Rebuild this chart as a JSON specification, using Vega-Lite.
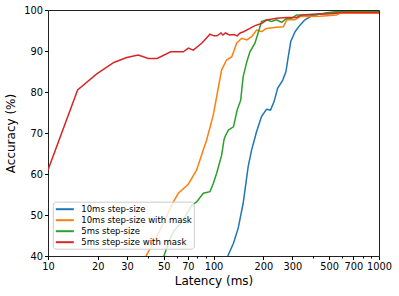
{
  "$schema": "https://vega.github.io/schema/vega-lite/v6.json",
  "autosize": "none",
  "width": 331,
  "height": 246,
  "padding": {"left": 48, "top": 10, "right": 20, "bottom": 40},
  "config": {
    "font": "DejaVu Sans",
    "view": {"stroke": "#222", "strokeWidth": 1},
    "axis": {"grid": false, "domain": false, "tickColor": "#000", "labelColor": "#000", "titleColor": "#000", "labelFontSize": 9.8, "tickSize": 3.5, "labelPadding": 2, "titleFontWeight": "normal", "titleFontSize": 12, "labelOverlap": false, "labelFlush": false}
  },
  "data": {"values": [
    {"s": "10ms step-size", "x": 114, "y": 37},
    {"s": "10ms step-size", "x": 122, "y": 40},
    {"s": "10ms step-size", "x": 132, "y": 43.1},
    {"s": "10ms step-size", "x": 141, "y": 46.8},
    {"s": "10ms step-size", "x": 151, "y": 52.8},
    {"s": "10ms step-size", "x": 162, "y": 61.8},
    {"s": "10ms step-size", "x": 170, "y": 65.9},
    {"s": "10ms step-size", "x": 182, "y": 70.3},
    {"s": "10ms step-size", "x": 195, "y": 74},
    {"s": "10ms step-size", "x": 209, "y": 75.8},
    {"s": "10ms step-size", "x": 221, "y": 75.6},
    {"s": "10ms step-size", "x": 232, "y": 77.6},
    {"s": "10ms step-size", "x": 244, "y": 80.9},
    {"s": "10ms step-size", "x": 262, "y": 82.9},
    {"s": "10ms step-size", "x": 274, "y": 85},
    {"s": "10ms step-size", "x": 283, "y": 88.6},
    {"s": "10ms step-size", "x": 293, "y": 92.3},
    {"s": "10ms step-size", "x": 311, "y": 94.7},
    {"s": "10ms step-size", "x": 333, "y": 96.3},
    {"s": "10ms step-size", "x": 357, "y": 97.6},
    {"s": "10ms step-size", "x": 401, "y": 98.8},
    {"s": "10ms step-size", "x": 483, "y": 99.2},
    {"s": "10ms step-size", "x": 581, "y": 99.6},
    {"s": "10ms step-size", "x": 1000, "y": 99.6},
    {"s": "10ms step-size with mask", "x": 37, "y": 37},
    {"s": "10ms step-size with mask", "x": 39.1, "y": 40},
    {"s": "10ms step-size with mask", "x": 47.5, "y": 46.3},
    {"s": "10ms step-size with mask", "x": 57.2, "y": 53.2},
    {"s": "10ms step-size with mask", "x": 61.3, "y": 55.3},
    {"s": "10ms step-size with mask", "x": 70.4, "y": 57.5},
    {"s": "10ms step-size with mask", "x": 79.1, "y": 61},
    {"s": "10ms step-size with mask", "x": 86.8, "y": 65.9},
    {"s": "10ms step-size with mask", "x": 90.9, "y": 68.3},
    {"s": "10ms step-size with mask", "x": 99.7, "y": 74.4},
    {"s": "10ms step-size with mask", "x": 112, "y": 85.4},
    {"s": "10ms step-size with mask", "x": 120, "y": 87.8},
    {"s": "10ms step-size with mask", "x": 129, "y": 88.6},
    {"s": "10ms step-size with mask", "x": 138, "y": 91.9},
    {"s": "10ms step-size with mask", "x": 148, "y": 93.1},
    {"s": "10ms step-size with mask", "x": 159, "y": 92.7},
    {"s": "10ms step-size with mask", "x": 170, "y": 93.5},
    {"s": "10ms step-size with mask", "x": 182, "y": 95.1},
    {"s": "10ms step-size with mask", "x": 195, "y": 94.7},
    {"s": "10ms step-size with mask", "x": 209, "y": 95.5},
    {"s": "10ms step-size with mask", "x": 240, "y": 95.8},
    {"s": "10ms step-size with mask", "x": 264, "y": 95.9},
    {"s": "10ms step-size with mask", "x": 277, "y": 97.6},
    {"s": "10ms step-size with mask", "x": 310, "y": 97.6},
    {"s": "10ms step-size with mask", "x": 333, "y": 98.4},
    {"s": "10ms step-size with mask", "x": 366, "y": 98.4},
    {"s": "10ms step-size with mask", "x": 439, "y": 98.5},
    {"s": "10ms step-size with mask", "x": 555, "y": 98.8},
    {"s": "10ms step-size with mask", "x": 581, "y": 99.2},
    {"s": "10ms step-size with mask", "x": 1000, "y": 99.2},
    {"s": "5ms step-size", "x": 48, "y": 37},
    {"s": "5ms step-size", "x": 50.2, "y": 40},
    {"s": "5ms step-size", "x": 53.3, "y": 43.1},
    {"s": "5ms step-size", "x": 57.2, "y": 45.9},
    {"s": "5ms step-size", "x": 65.7, "y": 48.8},
    {"s": "5ms step-size", "x": 73.8, "y": 52.4},
    {"s": "5ms step-size", "x": 79.1, "y": 53.2},
    {"s": "5ms step-size", "x": 86.8, "y": 55.3},
    {"s": "5ms step-size", "x": 95.2, "y": 55.7},
    {"s": "5ms step-size", "x": 99.7, "y": 57.7},
    {"s": "5ms step-size", "x": 104.5, "y": 60.2},
    {"s": "5ms step-size", "x": 112, "y": 64.6},
    {"s": "5ms step-size", "x": 115.7, "y": 68.3},
    {"s": "5ms step-size", "x": 117.3, "y": 69.1},
    {"s": "5ms step-size", "x": 123, "y": 70.7},
    {"s": "5ms step-size", "x": 132, "y": 71.5},
    {"s": "5ms step-size", "x": 139, "y": 75.6},
    {"s": "5ms step-size", "x": 146, "y": 78},
    {"s": "5ms step-size", "x": 151, "y": 83.7},
    {"s": "5ms step-size", "x": 159, "y": 87.4},
    {"s": "5ms step-size", "x": 166, "y": 89.8},
    {"s": "5ms step-size", "x": 178, "y": 91.9},
    {"s": "5ms step-size", "x": 187, "y": 94.7},
    {"s": "5ms step-size", "x": 195, "y": 97.2},
    {"s": "5ms step-size", "x": 209, "y": 97.6},
    {"s": "5ms step-size", "x": 224, "y": 97.2},
    {"s": "5ms step-size", "x": 240, "y": 97.6},
    {"s": "5ms step-size", "x": 258, "y": 97},
    {"s": "5ms step-size", "x": 277, "y": 98},
    {"s": "5ms step-size", "x": 297, "y": 98},
    {"s": "5ms step-size", "x": 318, "y": 98.8},
    {"s": "5ms step-size", "x": 366, "y": 98.8},
    {"s": "5ms step-size", "x": 412, "y": 98.8},
    {"s": "5ms step-size", "x": 494, "y": 99.4},
    {"s": "5ms step-size", "x": 555, "y": 99.6},
    {"s": "5ms step-size", "x": 1000, "y": 99.6},
    {"s": "5ms step-size with mask", "x": 10, "y": 61},
    {"s": "5ms step-size with mask", "x": 15.1, "y": 80.5},
    {"s": "5ms step-size with mask", "x": 19.7, "y": 84.4},
    {"s": "5ms step-size with mask", "x": 25, "y": 87.2},
    {"s": "5ms step-size with mask", "x": 29.9, "y": 88.4},
    {"s": "5ms step-size with mask", "x": 35.1, "y": 89},
    {"s": "5ms step-size with mask", "x": 40.4, "y": 88.2},
    {"s": "5ms step-size with mask", "x": 45.7, "y": 88.2},
    {"s": "5ms step-size with mask", "x": 55.1, "y": 89.8},
    {"s": "5ms step-size with mask", "x": 65.7, "y": 89.8},
    {"s": "5ms step-size with mask", "x": 70.5, "y": 90.7},
    {"s": "5ms step-size with mask", "x": 75.5, "y": 90.2},
    {"s": "5ms step-size with mask", "x": 85.5, "y": 92},
    {"s": "5ms step-size with mask", "x": 95.2, "y": 94.1},
    {"s": "5ms step-size with mask", "x": 100.7, "y": 93.7},
    {"s": "5ms step-size with mask", "x": 105, "y": 93.7},
    {"s": "5ms step-size with mask", "x": 111, "y": 94.4},
    {"s": "5ms step-size with mask", "x": 114, "y": 93.9},
    {"s": "5ms step-size with mask", "x": 118, "y": 94.4},
    {"s": "5ms step-size with mask", "x": 125, "y": 93.9},
    {"s": "5ms step-size with mask", "x": 133, "y": 94},
    {"s": "5ms step-size with mask", "x": 139, "y": 93.7},
    {"s": "5ms step-size with mask", "x": 145, "y": 94.4},
    {"s": "5ms step-size with mask", "x": 152, "y": 94.7},
    {"s": "5ms step-size with mask", "x": 166, "y": 95.5},
    {"s": "5ms step-size with mask", "x": 178, "y": 96.2},
    {"s": "5ms step-size with mask", "x": 195, "y": 96.7},
    {"s": "5ms step-size with mask", "x": 210, "y": 97.6},
    {"s": "5ms step-size with mask", "x": 241, "y": 98},
    {"s": "5ms step-size with mask", "x": 277, "y": 98.2},
    {"s": "5ms step-size with mask", "x": 318, "y": 98.2},
    {"s": "5ms step-size with mask", "x": 341, "y": 98.8},
    {"s": "5ms step-size with mask", "x": 420, "y": 99},
    {"s": "5ms step-size with mask", "x": 483, "y": 99},
    {"s": "5ms step-size with mask", "x": 555, "y": 99.2},
    {"s": "5ms step-size with mask", "x": 581, "y": 99.4},
    {"s": "5ms step-size with mask", "x": 1000, "y": 99.4}
  ]},
  "mark": {"type": "line", "strokeWidth": 1.5, "clip": true},
  "encoding": {
    "x": {"field": "x", "type": "quantitative", "scale": {"type": "log", "domain": [10, 1000], "nice": false},
          "axis": {"values": [10, 20, 30, 40, 50, 60, 70, 80, 90, 100, 200, 300, 400, 500, 600, 700, 800, 900, 1000],
                   "labelExpr": "indexof([10,20,30,50,70,100,200,300,500,700,1000], datum.value) >= 0 ? format(datum.value, 'd') : ''",
                   "tickSize": {"condition": {"test": "indexof([10,20,30,50,70,100,200,300,500,700,1000], datum.value) >= 0", "value": 3.5}, "value": 2},
                   "labelPadding": {"condition": {"test": "indexof([10,20,30,50,70,100,200,300,500,700,1000], datum.value) >= 0", "value": 2}, "value": 3.5},
                   "title": "Latency (ms)", "titlePadding": 4}},
    "y": {"field": "y", "type": "quantitative", "scale": {"domain": [40, 100], "nice": false},
          "axis": {"values": [40, 50, 60, 70, 80, 90, 100], "title": "Accuracy (%)", "titlePadding": 6}},
    "order": {"field": "x", "type": "quantitative"},
    "color": {"field": "s", "type": "nominal",
      "scale": {"domain": ["10ms step-size", "10ms step-size with mask", "5ms step-size", "5ms step-size with mask"],
                "range": ["#1f77b4", "#ff7f0e", "#2ca02c", "#d62728"]},
      "legend": {"title": null, "orient": "none", "legendX": 4.8, "legendY": 191.7, "symbolType": "M-1,0H3", "symbolSize": 81, "symbolStrokeWidth": 2,
                 "labelOffset": 15.5, "labelFontSize": 8.5, "rowPadding": 1, "padding": 2, "fillColor": "rgba(255,255,255,0.8)", "strokeColor": "#ccc", "cornerRadius": 3, "labelColor": "#000"}}
  }
}
